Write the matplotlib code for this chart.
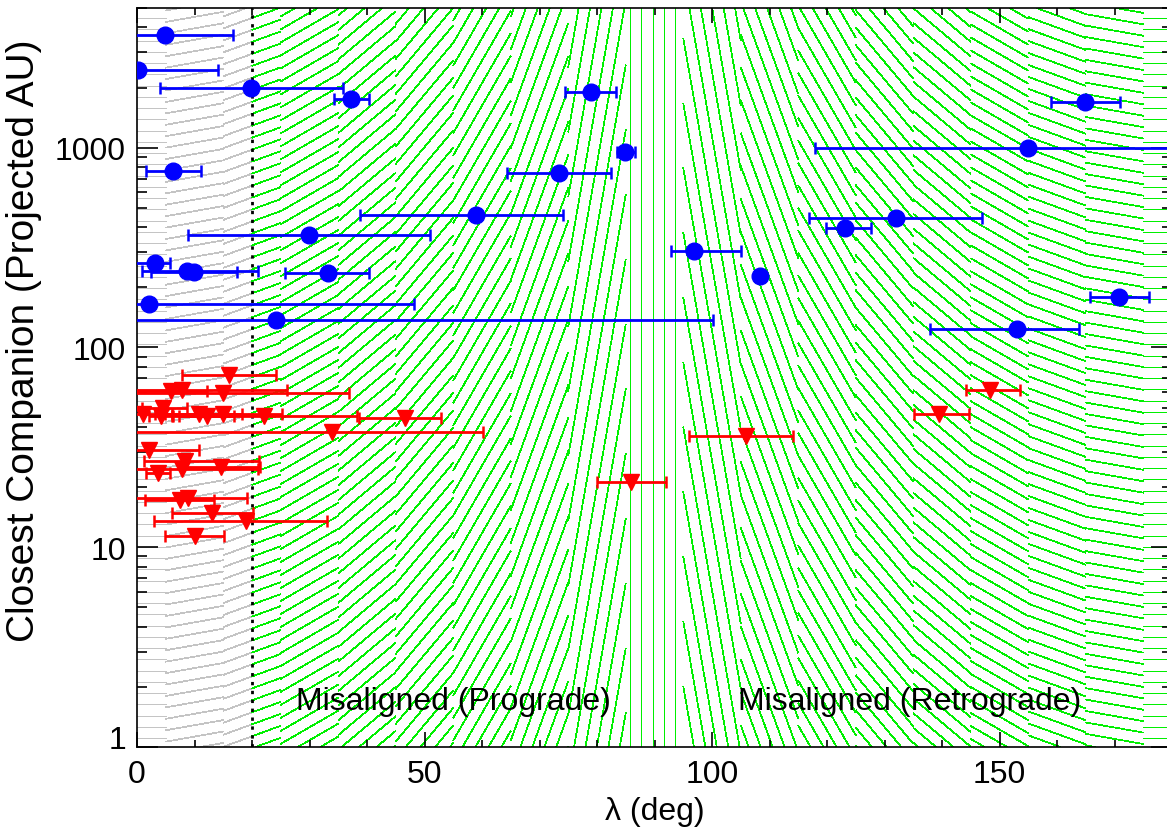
import numpy as np
import matplotlib
matplotlib.use("Agg")
from matplotlib import pyplot as plt
from matplotlib.collections import LineCollection
from matplotlib.transforms import IdentityTransform, ScaledTranslation

plt.rcParams["font.family"] = ["Liberation Sans", "DejaVu Sans"]

# wide binaries (blue circles): lambda, projected separation, error-bar ends
blue_lam = [4.9, 0.2, 19.9, 37.2, 79.0, 84.9, 73.4, 6.2, 59.0, 29.9, 3.1, 8.7,
            9.9, 33.2, 2.0, 24.1, 96.9, 108.3, 164.9, 155.0, 132.0, 123.2, 170.8, 153.0]
blue_au = [3670, 2436, 1988, 1744, 1905, 955, 750, 761, 462, 367, 266, 242,
           238, 236, 165, 137, 305, 229, 1692, 996, 447, 394, 178, 123]
blue_lo = [-7, -14, 4.0, 34.3, 74.4, 83.5, 64.4, 1.6, 38.8, 8.9, -2, 0.8,
           2.5, 25.7, -45, -52, 92.9, 107.5, 158.9, 117.9, 116.9, 119.8, 165.7, 137.9]
blue_hi = [16.7, 14.0, 35.9, 40.4, 83.3, 86.6, 82.4, 11.1, 74.1, 51.0, 5.7, 21.0,
           17.4, 40.4, 48.1, 100.2, 105.0, 109.1, 171.0, 192.0, 147.0, 127.7, 176.0, 163.9]

# close companions (red triangles)
red_lam = [85.9, 105.9, 139.5, 148.3, 16.0, 5.9, 7.9, 15.0, 4.6, 1.0, 4.1, 10.7,
           12.1, 15.0, 22.0, 46.6, 33.9, 2.0, 8.3, 14.6, 3.7, 7.9, 7.4, 8.9, 13.0, 19.0, 10.0]
red_au = [21.3, 36.2, 46.4, 61.0, 72.7, 60.5, 61.5, 59.2, 49.5, 46.4, 45.4, 46.4,
          45.4, 46.4, 45.4, 44.2, 37.9, 30.7, 27.1, 25.3, 23.6, 24.5, 17.2, 17.6, 14.9, 13.6, 11.4]
red_lo = [80.0, 96.0, 135.2, 144.2, 7.9, -0.5, -10, -6.9, 0.9, -4.0, 2.0, 3.2,
          7.3, 4.8, 6.0, 38.6, -10, -6.7, 1.2, 7.8, 1.6, -5.2, 1.4, -1.3, 6.0, 3.0, 4.9]
red_hi = [92.0, 114.0, 144.7, 153.6, 24.1, 12.1, 26.0, 36.9, 8.7, 6.0, 6.2, 18.2,
          16.9, 25.2, 38.2, 52.9, 60.2, 10.7, 21.3, 21.4, 5.7, 21.0, 13.4, 19.1, 20.2, 33.0, 15.1]

x_ticks = [0, 50, 100, 150]
y_ticks = [1, 10, 100, 1000]
y_ticklabels = ["1", "10", "100", "1000"]

aligned_limit = 20
strip_centers = np.arange(0, 181, 10)
xlim = (0, 180)
ylim = (1, 5000)


def clip_segment(p, d, box):
    """Clip the infinite line p + t*d to box (x0, y0, x1, y1)."""
    x0, y0, x1, y1 = box
    t_lo, t_hi = -np.inf, np.inf
    for pi, di, lo, hi in ((p[0], d[0], x0, x1), (p[1], d[1], y0, y1)):
        if abs(di) < 1e-12:
            if pi < lo or pi > hi:
                return None
            continue
        ta, tb = (lo - pi) / di, (hi - pi) / di
        t_lo = max(t_lo, min(ta, tb))
        t_hi = min(t_hi, max(ta, tb))
    if t_hi <= t_lo:
        return None
    return [p + t_lo * d, p + t_hi * d]


def hatch(ax, x0, x1, angle, color, spacing=11.25):
    tr = ax.transData
    px0, py0 = tr.transform((x0, ylim[0]))
    px1, py1 = tr.transform((x1, ylim[1]))
    t = np.radians(angle)
    d = np.array([np.cos(t), np.sin(t)])
    n = np.array([-np.sin(t), np.cos(t)])
    corners = np.array([[px0, py0], [px1, py0], [px0, py1], [px1, py1]])
    proj = corners @ n
    segs = []
    for k in np.arange(np.floor(proj.min() / spacing), np.ceil(proj.max() / spacing) + 1):
        seg = clip_segment(k * spacing * n, d, (px0, py0, px1, py1))
        if seg is not None:
            segs.append(seg)
    lc = LineCollection(segs, colors=color, linewidths=0.5, antialiaseds=False,
                        transform=IdentityTransform(), zorder=0.5)
    ax.add_collection(lc, autolim=False)


fig = plt.figure(figsize=(11.67, 8.29), dpi=100)
ax = fig.add_axes([137 / 1167, 81 / 829, (1172 - 137) / 1167, (820 - 81) / 829])
ax.set_yscale("log")
ax.set_xlim(*xlim)
ax.set_ylim(*ylim)

for c in strip_centers:
    a, b = max(c - 5, xlim[0]), min(c + 5, xlim[1])
    if a < aligned_limit:
        hatch(ax, a, min(b, aligned_limit), c, "#c4c4c4")
    if b > aligned_limit:
        hatch(ax, max(a, aligned_limit), b, c, "#00f000")

ax.axvline(aligned_limit, color="black", linestyle=(0, (1.2, 2.0)), linewidth=2, zorder=1)

blue_lam = np.array(blue_lam)
red_lam = np.array(red_lam)
ax.errorbar(blue_lam, blue_au,
            xerr=[blue_lam - np.array(blue_lo), np.array(blue_hi) - blue_lam],
            fmt="o", color="blue", markersize=12, elinewidth=2, capsize=4,
            capthick=1.8, zorder=3)
ax.errorbar(red_lam, red_au,
            xerr=[red_lam - np.array(red_lo), np.array(red_hi) - red_lam],
            fmt="v", color="red", markersize=12, elinewidth=2, capsize=4,
            capthick=1.8, zorder=3)

ax.text(55, 1.7, "Misaligned (Prograde)", fontsize=23, ha="center", va="center", zorder=4)
ax.text(134.4, 1.7, "Misaligned (Retrograde)", fontsize=23, ha="center", va="center", zorder=4)

ax.set_xticks(x_ticks)
ax.set_xticks(np.arange(0, 181, 10), minor=True)
ax.set_yticks(y_ticks)
ax.set_yticklabels(y_ticklabels)
ax.tick_params(which="both", direction="in", top=True, right=True, labelsize=23, width=1.2)
ax.tick_params(axis="x", which="major", length=11, pad=9)
ax.tick_params(axis="x", which="minor", length=5)
ax.tick_params(axis="y", which="major", length=15, pad=8)
ax.tick_params(axis="y", which="minor", length=7.5)
for s in ax.spines.values():
    s.set_linewidth(1.2)

# the lowest y label sits a little above its tick in the original
lbl = ax.get_yticklabels()[0]
lbl.set_transform(lbl.get_transform() + ScaledTranslation(0, 0.1, fig.dpi_scale_trans))

ax.set_xlabel("λ (deg)", fontsize=23, labelpad=5)
ax.set_ylabel("Closest Companion (Projected AU)", fontsize=28)
ax.yaxis.set_label_coords(-0.092, 0.551)

fig.savefig("out.png", dpi=100)
